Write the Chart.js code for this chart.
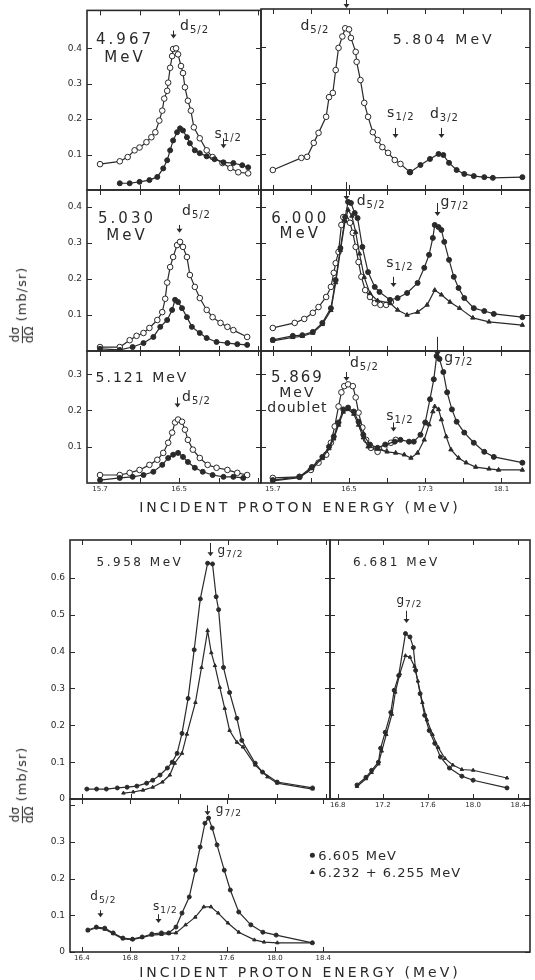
<!DOCTYPE html>
<html>
<head>
<meta charset="utf-8">
<script src="https://cdn.jsdelivr.net/npm/chart.js@4.4.1/dist/chart.umd.min.js"></script>
<style>
  body { margin: 0; background: #fff; width: 535px; height: 980px; position: relative; overflow: hidden;
         font-family: "DejaVu Sans", sans-serif; color: #2a2a2a; }
  canvas { position: absolute; left: 0; top: 0; }
  .xtitle { position: absolute; transform: translate(-50%, -50%); font-size: 14px; letter-spacing: 3px; white-space: nowrap; }
  .ytitle { position: absolute; transform: translate(-50%, -50%) rotate(-90deg); white-space: nowrap; font-size: 13px; letter-spacing: 1px; }
  .frac { display: inline-block; vertical-align: middle; text-align: center; line-height: 1.05; font-size: 12px; letter-spacing: 0; margin-right: 5px; }
  .frac span { display: block; }
  .frac .den { border-top: 1px solid #2a2a2a; }
</style>
</head>
<body>
<canvas id="p1" width="535" height="980"></canvas>
<canvas id="p2" width="535" height="980"></canvas>
<canvas id="p3" width="535" height="980"></canvas>
<canvas id="p4" width="535" height="980"></canvas>
<canvas id="p5" width="535" height="980"></canvas>
<canvas id="p6" width="535" height="980"></canvas>
<canvas id="p7" width="535" height="980"></canvas>
<canvas id="p8" width="535" height="980"></canvas>
<canvas id="p9" width="535" height="980"></canvas>

<div class="ytitle" style="left:22px;top:305px"><span class="frac"><span>dσ</span><span class="den">dΩ</span></span>(mb/sr)</div>
<div class="xtitle" style="left:300px;top:507px">INCIDENT PROTON ENERGY (MeV)</div>
<div class="ytitle" style="left:22px;top:785px"><span class="frac"><span>dσ</span><span class="den">dΩ</span></span>(mb/sr)</div>
<div class="xtitle" style="left:300px;top:972px">INCIDENT PROTON ENERGY (MeV)</div>

<script>
// ---- data: [incident proton energy (MeV), dσ/dΩ (mb/sr)] ----
// 4.967 MeV
const e4967Open = [[15.70,0.073],[15.90,0.081],[15.98,0.093],[16.05,0.112],[16.10,0.120],[16.17,0.135],[16.22,0.149],[16.26,0.163],[16.30,0.196],[16.33,0.224],[16.35,0.258],[16.38,0.280],[16.39,0.303],[16.41,0.345],[16.43,0.378],[16.44,0.398],[16.47,0.400],[16.49,0.383],[16.52,0.350],[16.54,0.330],[16.56,0.290],[16.59,0.252],[16.62,0.224],[16.65,0.177],[16.71,0.146],[16.78,0.112],[16.84,0.093],[16.94,0.076],[17.02,0.062],[17.10,0.050],[17.20,0.047]];
const e4967Fill = [[15.90,0.019],[16.00,0.019],[16.10,0.023],[16.20,0.028],[16.28,0.037],[16.34,0.061],[16.38,0.084],[16.41,0.112],[16.44,0.140],[16.48,0.163],[16.51,0.174],[16.54,0.168],[16.58,0.149],[16.61,0.132],[16.66,0.112],[16.71,0.104],[16.78,0.095],[16.86,0.087],[16.95,0.078],[17.05,0.076],[17.14,0.070],[17.20,0.064]];
// 5.804 MeV
const e5804Open = [[15.70,0.056],[16.00,0.090],[16.06,0.093],[16.13,0.132],[16.18,0.160],[16.26,0.205],[16.29,0.260],[16.33,0.272],[16.36,0.336],[16.39,0.398],[16.43,0.430],[16.46,0.453],[16.50,0.450],[16.52,0.426],[16.57,0.387],[16.58,0.359],[16.62,0.308],[16.66,0.244],[16.70,0.205],[16.75,0.162],[16.80,0.140],[16.85,0.120],[16.91,0.104],[16.98,0.084],[17.04,0.073],[17.14,0.050]];
const e5804Fill = [[17.14,0.050],[17.25,0.070],[17.35,0.087],[17.44,0.101],[17.49,0.098],[17.55,0.076],[17.63,0.056],[17.71,0.045],[17.81,0.039],[17.92,0.036],[18.01,0.034],[18.32,0.036]];
// 5.030 MeV
const e5030Open = [[15.70,0.011],[15.90,0.011],[16.00,0.030],[16.07,0.042],[16.14,0.050],[16.20,0.064],[16.28,0.086],[16.33,0.108],[16.36,0.145],[16.38,0.190],[16.41,0.233],[16.44,0.261],[16.48,0.294],[16.51,0.303],[16.54,0.289],[16.58,0.261],[16.61,0.211],[16.66,0.178],[16.71,0.147],[16.78,0.114],[16.84,0.094],[16.92,0.078],[16.99,0.067],[17.05,0.058],[17.19,0.039]];
const e5030Fill = [[15.70,0.006],[15.90,0.003],[16.03,0.011],[16.14,0.022],[16.24,0.039],[16.31,0.067],[16.38,0.086],[16.43,0.114],[16.46,0.142],[16.49,0.136],[16.53,0.119],[16.58,0.094],[16.63,0.067],[16.71,0.050],[16.78,0.036],[16.88,0.025],[16.99,0.022],[17.09,0.019],[17.19,0.017]];
// 6.000 MeV
const e6000Open = [[15.70,0.064],[15.93,0.078],[16.03,0.089],[16.12,0.106],[16.18,0.122],[16.26,0.150],[16.31,0.178],[16.34,0.217],[16.36,0.244],[16.39,0.275],[16.42,0.350],[16.44,0.372],[16.47,0.364],[16.51,0.356],[16.54,0.328],[16.57,0.289],[16.60,0.247],[16.63,0.206],[16.67,0.169],[16.72,0.150],[16.77,0.133],[16.83,0.128],[16.89,0.128],[16.94,0.136]];
const e6000Fill = [[15.70,0.031],[15.91,0.042],[16.01,0.044],[16.12,0.053],[16.22,0.078],[16.31,0.119],[16.36,0.197],[16.41,0.286],[16.46,0.372],[16.49,0.414],[16.52,0.411],[16.56,0.383],[16.59,0.369],[16.64,0.289],[16.70,0.219],[16.77,0.178],[16.82,0.164],[16.93,0.142],[17.01,0.147],[17.11,0.161],[17.22,0.189],[17.29,0.231],[17.34,0.267],[17.38,0.314],[17.40,0.350],[17.44,0.344],[17.47,0.336],[17.50,0.303],[17.55,0.253],[17.60,0.206],[17.65,0.175],[17.71,0.147],[17.81,0.119],[17.92,0.111],[18.02,0.103],[18.32,0.094]];
const e6000Tri = [[15.70,0.028],[15.91,0.038],[16.01,0.041],[16.12,0.050],[16.22,0.074],[16.31,0.113],[16.36,0.190],[16.41,0.280],[16.46,0.362],[16.49,0.392],[16.53,0.375],[16.57,0.330],[16.61,0.270],[16.66,0.205],[16.72,0.160],[16.80,0.140],[16.93,0.133],[17.01,0.114],[17.11,0.100],[17.22,0.108],[17.32,0.128],[17.40,0.169],[17.47,0.156],[17.56,0.136],[17.66,0.119],[17.80,0.092],[17.97,0.081],[18.32,0.072]];
// 5.121 MeV
const e5121Open = [[15.70,0.022],[15.90,0.022],[16.00,0.028],[16.10,0.036],[16.20,0.050],[16.28,0.064],[16.34,0.083],[16.39,0.111],[16.43,0.139],[16.46,0.167],[16.49,0.175],[16.53,0.169],[16.56,0.147],[16.59,0.119],[16.64,0.092],[16.71,0.069],[16.79,0.050],[16.88,0.042],[16.99,0.036],[17.09,0.028],[17.19,0.022]];
const e5121Fill = [[15.70,0.008],[15.90,0.014],[16.03,0.017],[16.14,0.022],[16.24,0.031],[16.33,0.050],[16.39,0.069],[16.44,0.078],[16.49,0.083],[16.54,0.072],[16.59,0.058],[16.66,0.042],[16.74,0.031],[16.84,0.022],[16.95,0.017],[17.05,0.017],[17.15,0.014]];
// 5.869 MeV doublet
const e5869Open = [[15.70,0.014],[15.98,0.017],[16.10,0.036],[16.18,0.056],[16.26,0.078],[16.31,0.111],[16.35,0.156],[16.39,0.211],[16.42,0.250],[16.45,0.267],[16.49,0.272],[16.54,0.267],[16.57,0.236],[16.60,0.194],[16.64,0.153],[16.68,0.119],[16.73,0.097],[16.80,0.086],[16.87,0.097],[16.94,0.111],[16.99,0.119]];
const e5869Fill = [[15.70,0.008],[15.98,0.017],[16.11,0.044],[16.22,0.072],[16.29,0.100],[16.34,0.128],[16.39,0.167],[16.44,0.203],[16.49,0.208],[16.55,0.197],[16.60,0.169],[16.65,0.133],[16.72,0.106],[16.80,0.097],[16.88,0.106],[16.98,0.114],[17.04,0.119],[17.13,0.114],[17.18,0.114],[17.25,0.133],[17.30,0.167],[17.35,0.231],[17.39,0.286],[17.42,0.350],[17.45,0.342],[17.49,0.306],[17.53,0.250],[17.58,0.203],[17.63,0.169],[17.71,0.139],[17.81,0.111],[17.92,0.086],[18.02,0.072],[18.32,0.056]];
const e5869Tri = [[15.70,0.006],[15.98,0.015],[16.11,0.040],[16.22,0.068],[16.29,0.095],[16.34,0.122],[16.39,0.160],[16.44,0.196],[16.49,0.203],[16.55,0.190],[16.60,0.160],[16.65,0.125],[16.70,0.100],[16.80,0.094],[16.90,0.086],[16.99,0.083],[17.08,0.078],[17.15,0.069],[17.22,0.083],[17.29,0.119],[17.34,0.161],[17.38,0.197],[17.40,0.211],[17.44,0.203],[17.47,0.175],[17.52,0.128],[17.57,0.092],[17.65,0.069],[17.73,0.056],[17.83,0.044],[17.97,0.039],[18.07,0.036],[18.32,0.036]];
// 5.958 MeV
const e5958Circ = [[16.44,0.027],[16.52,0.027],[16.60,0.027],[16.69,0.030],[16.77,0.032],[16.85,0.035],[16.93,0.043],[16.98,0.051],[17.04,0.065],[17.10,0.084],[17.14,0.100],[17.18,0.124],[17.22,0.178],[17.27,0.273],[17.32,0.405],[17.37,0.543],[17.43,0.640],[17.47,0.638],[17.50,0.549],[17.52,0.514],[17.56,0.357],[17.61,0.289],[17.67,0.219],[17.71,0.159],[17.82,0.097],[17.88,0.073],[18.00,0.046],[18.29,0.030]];
const e5958Tri = [[16.74,0.016],[16.82,0.019],[16.90,0.024],[16.98,0.032],[17.06,0.046],[17.12,0.065],[17.16,0.097],[17.22,0.124],[17.26,0.176],[17.33,0.262],[17.38,0.357],[17.43,0.457],[17.46,0.397],[17.49,0.362],[17.53,0.303],[17.57,0.246],[17.61,0.186],[17.67,0.154],[17.72,0.141],[17.82,0.092],[17.92,0.060],[18.00,0.043],[18.29,0.027]];
// 6.681 MeV
const e6681Circ = [[16.97,0.038],[17.05,0.059],[17.10,0.078],[17.16,0.100],[17.18,0.138],[17.22,0.181],[17.27,0.235],[17.30,0.295],[17.34,0.335],[17.40,0.449],[17.44,0.440],[17.47,0.411],[17.49,0.349],[17.53,0.286],[17.57,0.227],[17.61,0.186],[17.66,0.151],[17.71,0.114],[17.79,0.084],[17.90,0.062],[18.00,0.051],[18.30,0.030]];
const e6681Tri = [[16.97,0.034],[17.05,0.055],[17.10,0.072],[17.16,0.095],[17.19,0.130],[17.23,0.175],[17.28,0.230],[17.31,0.290],[17.35,0.340],[17.40,0.389],[17.44,0.385],[17.48,0.360],[17.51,0.320],[17.55,0.262],[17.59,0.215],[17.64,0.175],[17.69,0.140],[17.75,0.110],[17.82,0.092],[17.90,0.080],[18.00,0.078],[18.30,0.057]];
// 6.605 MeV and 6.232 + 6.255 MeV
const e6605 = [[16.45,0.060],[16.52,0.068],[16.59,0.065],[16.66,0.052],[16.74,0.038],[16.82,0.035],[16.90,0.041],[16.98,0.049],[17.06,0.052],[17.12,0.052],[17.18,0.068],[17.23,0.106],[17.29,0.150],[17.34,0.223],[17.38,0.286],[17.42,0.351],[17.45,0.365],[17.48,0.338],[17.52,0.292],[17.58,0.223],[17.63,0.169],[17.70,0.109],[17.80,0.074],[17.90,0.054],[18.01,0.046],[18.31,0.025]];
const e6232 = [[16.45,0.058],[16.52,0.066],[16.59,0.062],[16.66,0.050],[16.74,0.036],[16.82,0.034],[16.90,0.040],[16.98,0.046],[17.06,0.048],[17.12,0.050],[17.18,0.052],[17.26,0.074],[17.34,0.095],[17.41,0.123],[17.47,0.123],[17.53,0.106],[17.61,0.079],[17.70,0.054],[17.83,0.033],[17.91,0.027],[18.02,0.025],[18.31,0.025]];

// tick values and labels
const topLeftX = [15.7, 16.1, 16.5, 16.9, 17.3];
const topLeftXLab = ['15.7', '', '16.5', '', ''];
const topRightX = [15.7, 16.1, 16.5, 16.9, 17.3, 17.7, 18.1];
const topRightXLab = ['15.7', '', '16.5', '', '17.3', '', '18.1'];
const upperY = [0.1, 0.2, 0.3, 0.4];
const upperYLab = ['0.1', '0.2', '0.3', '0.4'];
const lowerY = [0.1, 0.2, 0.3];
const lowerYLab = ['0.1', '0.2', '0.3'];
const bottomX = [16.4, 16.8, 17.2, 17.6, 18.0, 18.4];
const bottomXLab = ['16.4', '16.8', '17.2', '17.6', '18.0', '18.4'];
const p8X = [16.8, 17.2, 17.6, 18.0, 18.4];
const p8XLab = ['16.8', '17.2', '17.6', '18.0', '18.4'];
const bigY = [0, 0.1, 0.2, 0.3, 0.4, 0.5, 0.6];
const bigYLab = ['0', '0.1', '0.2', '0.3', '0.4', '0.5', '0.6'];
const p9Y = [0, 0.1, 0.2, 0.3, 0.4];
const p9YLab = ['0', '0.1', '0.2', '0.3', ''];

const W = 535, H = 980;
const AXW = 30, AXH = 14;   // room kept for tick labels beside each frame
const INK = '#2a2a2a';
const FAM = '"DejaVu Sans", sans-serif';

function series(data, kind, small) {
  const r = small ? 2 : 2.5;
  const base = {
    data: data.map(([x, y]) => ({ x, y })),
    borderColor: INK, borderWidth: 1.2, pointBorderColor: INK, pointBorderWidth: 1,
    tension: 0, fill: false,
  };
  if (kind === 'open') return { ...base, pointStyle: 'circle', pointRadius: r + 0.3, pointBackgroundColor: '#fff' };
  if (kind === 'tri') return { ...base, pointStyle: 'triangle', pointRadius: r, pointBackgroundColor: INK };
  return { ...base, pointStyle: 'circle', pointRadius: r, pointBackgroundColor: INK };
}

function sublabel(ctx, px, py, main, sub, big) {
  ctx.letterSpacing = '0px';
  ctx.textAlign = 'left';
  ctx.font = (big ? 14 : 12) + 'px ' + FAM;
  ctx.fillText(main, px, py);
  const w = ctx.measureText(main).width;
  ctx.font = (big ? 10 : 9) + 'px ' + FAM;
  ctx.letterSpacing = '1px';
  ctx.fillText(sub, px + w + 1, py + 3);
}

// frame, inward ticks and the text notes of one panel
function decor(notes) {
  return {
    id: 'decor',
    afterDatasetsDraw(chart) {
      const { ctx, chartArea: a } = chart;
      const sx = chart.scales.x, sy = chart.scales.y;
      const X = v => sx.getPixelForValue(v), Y = v => sy.getPixelForValue(v);
      ctx.save();
      ctx.strokeStyle = INK; ctx.fillStyle = INK;
      ctx.lineWidth = 1.6;
      ctx.strokeRect(a.left, a.top, a.right - a.left, a.bottom - a.top);
      ctx.lineWidth = 1;
      ctx.beginPath();
      sx.ticks.forEach(t => {
        const p = Math.round(X(t.value)) + 0.5;
        ctx.moveTo(p, a.bottom); ctx.lineTo(p, a.bottom - 5);
        ctx.moveTo(p, a.top); ctx.lineTo(p, a.top + 5);
      });
      sy.ticks.forEach(t => {
        const p = Math.round(Y(t.value)) + 0.5;
        ctx.moveTo(a.left, p); ctx.lineTo(a.left + 5, p);
        ctx.moveTo(a.right, p); ctx.lineTo(a.right - 5, p);
      });
      ctx.stroke();

      (notes.arrows || []).forEach(([x, y1, y2]) => {
        const px = Math.round(X(x)) + 0.5, t = Y(y1), b = Y(y2);
        ctx.beginPath(); ctx.moveTo(px, t); ctx.lineTo(px, b - 3); ctx.stroke();
        ctx.beginPath(); ctx.moveTo(px - 3, b - 4); ctx.lineTo(px + 3, b - 4); ctx.lineTo(px, b); ctx.closePath(); ctx.fill();
      });
      (notes.labels || []).forEach(([x, y, m, s]) => sublabel(ctx, X(x), Y(y), m, s, notes.big));
      (notes.titles || []).forEach(([x, y, txt, size, sp]) => {
        ctx.font = size + 'px ' + FAM;
        ctx.letterSpacing = sp + 'px';
        ctx.textAlign = 'center';
        ctx.fillText(txt, X(x), Y(y));
      });
      (notes.legend || []).forEach(([x, y, mk, txt]) => {
        const px = X(x), py = Y(y);
        ctx.beginPath();
        if (mk === 'circle') ctx.arc(px, py, 2.5, 0, Math.PI * 2);
        else { ctx.moveTo(px - 2.5, py + 2); ctx.lineTo(px + 2.5, py + 2); ctx.lineTo(px, py - 2.5); ctx.closePath(); }
        ctx.fill();
        ctx.font = '13px ' + FAM; ctx.letterSpacing = '1px'; ctx.textAlign = 'left';
        ctx.fillText(txt, px + 6, py + 5);
      });
      ctx.restore();
    }
  };
}

function panel(id, frame, xr, yr, xt, xl, yt, yl, datasets, notes) {
  const [l, t, r, b] = frame;
  return new Chart(document.getElementById(id), {
    type: 'line',
    data: { datasets },
    options: {
      responsive: false, animation: false, events: [],
      layout: { padding: { left: l - AXW, top: t, right: W - r, bottom: H - b - AXH } },
      plugins: { legend: { display: false }, tooltip: { enabled: false } },
      scales: {
        x: {
          type: 'linear', min: xr[0], max: xr[1],
          grid: { display: false, drawTicks: false }, border: { display: false },
          afterBuildTicks: s => { s.ticks = xt.map(v => ({ value: v })); },
          afterFit: s => { s.height = AXH; },
          ticks: { display: !!xl, autoSkip: false, maxRotation: 0, padding: 2, color: INK,
                   font: { size: 7, family: FAM }, callback: (v, i) => (xl ? xl[i] : '') }
        },
        y: {
          type: 'linear', min: yr[0], max: yr[1],
          grid: { display: false, drawTicks: false }, border: { display: false },
          afterBuildTicks: s => { s.ticks = yt.map(v => ({ value: v })); },
          afterFit: s => { s.width = AXW; },
          ticks: { display: !!yl, autoSkip: false, padding: 5, color: INK,
                   font: { size: 9, family: FAM }, callback: (v, i) => (yl ? yl[i] : '') }
        }
      }
    },
    plugins: [decor(notes)]
  });
}

// top block: 3 rows x 2 columns
panel('p1', [87, 9, 261, 190], [15.568, 17.33], [0, 0.507], topLeftX, null, upperY, upperYLab,
  [series(e4967Fill, 'fill'), series(e4967Open, 'open')],
  { big: true,
    arrows: [[16.44, 0.45, 0.428], [16.95, 0.146, 0.118]],
    labels: [[16.51, 0.451, 'd', '5/2'], [16.86, 0.148, 's', '1/2']],
    titles: [[15.953, 0.412, '4.967', 15, 3], [15.953, 0.361, 'MeV', 15, 3]] });

panel('p2', [261, 9, 535, 190], [15.576, 18.40], [0, 0.507], topRightX, null, upperY, null,
  [series(e5804Fill, 'fill'), series(e5804Open, 'open')],
  { big: true,
    arrows: [[16.47, 0.535, 0.51], [16.98, 0.174, 0.146], [17.47, 0.174, 0.146]],
    labels: [[15.99, 0.448, 'd', '5/2'], [16.90, 0.204, 's', '1/2'], [17.35, 0.202, 'd', '3/2']],
    titles: [[17.494, 0.409, '5.804 MeV', 14, 3]] });

panel('p3', [87, 190, 261, 351], [15.568, 17.33], [0, 0.447], topLeftX, null, upperY, upperYLab,
  [series(e5030Fill, 'fill'), series(e5030Open, 'open')],
  { big: true,
    arrows: [[16.50, 0.35, 0.328]],
    labels: [[16.53, 0.378, 'd', '5/2']],
    titles: [[15.973, 0.356, '5.030', 15, 3], [15.973, 0.308, 'MeV', 15, 3]] });

panel('p4', [261, 190, 535, 351], [15.576, 18.40], [0, 0.447], topRightX, null, upperY, null,
  [series(e6000Fill, 'fill'), series(e6000Tri, 'tri'), series(e6000Open, 'open')],
  { big: true,
    arrows: [[16.47, 0.469, 0.419], [17.42, 0.411, 0.375], [16.96, 0.206, 0.178]],
    labels: [[16.58, 0.406, 'd', '5/2'], [17.46, 0.403, 'g', '7/2'], [16.89, 0.233, 's', '1/2']],
    titles: [[15.989, 0.356, '6.000', 15, 3], [15.989, 0.314, 'MeV', 15, 3]] });

panel('p5', [87, 351, 261, 483], [15.568, 17.33], [0, 0.364], topLeftX, topLeftXLab, lowerY, lowerYLab,
  [series(e5121Fill, 'fill'), series(e5121Open, 'open')],
  { big: true,
    arrows: [[16.48, 0.236, 0.208]],
    labels: [[16.53, 0.225, 'd', '5/2']],
    titles: [[16.125, 0.278, '5.121 MeV', 14, 2]] });

panel('p6', [261, 351, 535, 483], [15.576, 18.40], [0, 0.364], topRightX, topRightXLab, lowerY, null,
  [series(e5869Fill, 'fill'), series(e5869Tri, 'tri'), series(e5869Open, 'open')],
  { big: true,
    arrows: [[16.47, 0.306, 0.281], [16.96, 0.167, 0.142], [17.42, 0.403, 0.35]],
    labels: [[16.51, 0.319, 'd', '5/2'], [16.89, 0.175, 's', '1/2'], [17.50, 0.333, 'g', '7/2']],
    titles: [[15.958, 0.278, '5.869', 15, 2], [15.958, 0.236, 'MeV', 14, 2], [15.958, 0.197, 'doublet', 14, 1]] });

// bottom block
panel('p7', [70, 540, 330, 799], [16.302, 18.433], [0, 0.703], bottomX, null, bigY, bigYLab,
  [series(e5958Circ, 'fill', true), series(e5958Tri, 'tri', true)],
  { arrows: [[17.45, 0.695, 0.659]],
    labels: [[17.51, 0.665, 'g', '7/2']],
    titles: [[16.875, 0.632, '5.958 MeV', 12, 2.5]] });

panel('p8', [330, 540, 535, 799], [16.731, 18.504], [0, 0.703], p8X, p8XLab, bigY, null,
  [series(e6681Circ, 'fill', true), series(e6681Tri, 'tri', true)],
  { arrows: [[17.405, 0.511, 0.478]],
    labels: [[17.32, 0.53, 'g', '7/2']],
    titles: [[17.319, 0.632, '6.681 MeV', 12, 2.5]] });

panel('p9', [70, 799, 535, 952], [16.302, 20.113], [0, 0.417], bottomX, bottomXLab, p9Y, p9YLab,
  [series(e6605, 'fill', true), series(e6232, 'tri', true)],
  { arrows: [[16.55, 0.114, 0.095], [17.03, 0.103, 0.079], [17.44, 0.40, 0.373]],
    labels: [[16.47, 0.142, 'd', '5/2'], [16.99, 0.114, 's', '1/2'], [17.51, 0.379, 'g', '7/2']],
    legend: [[18.31, 0.264, 'circle', '6.605 MeV'], [18.31, 0.218, 'triangle', '6.232 + 6.255 MeV']] });
</script>
</body>
</html>
